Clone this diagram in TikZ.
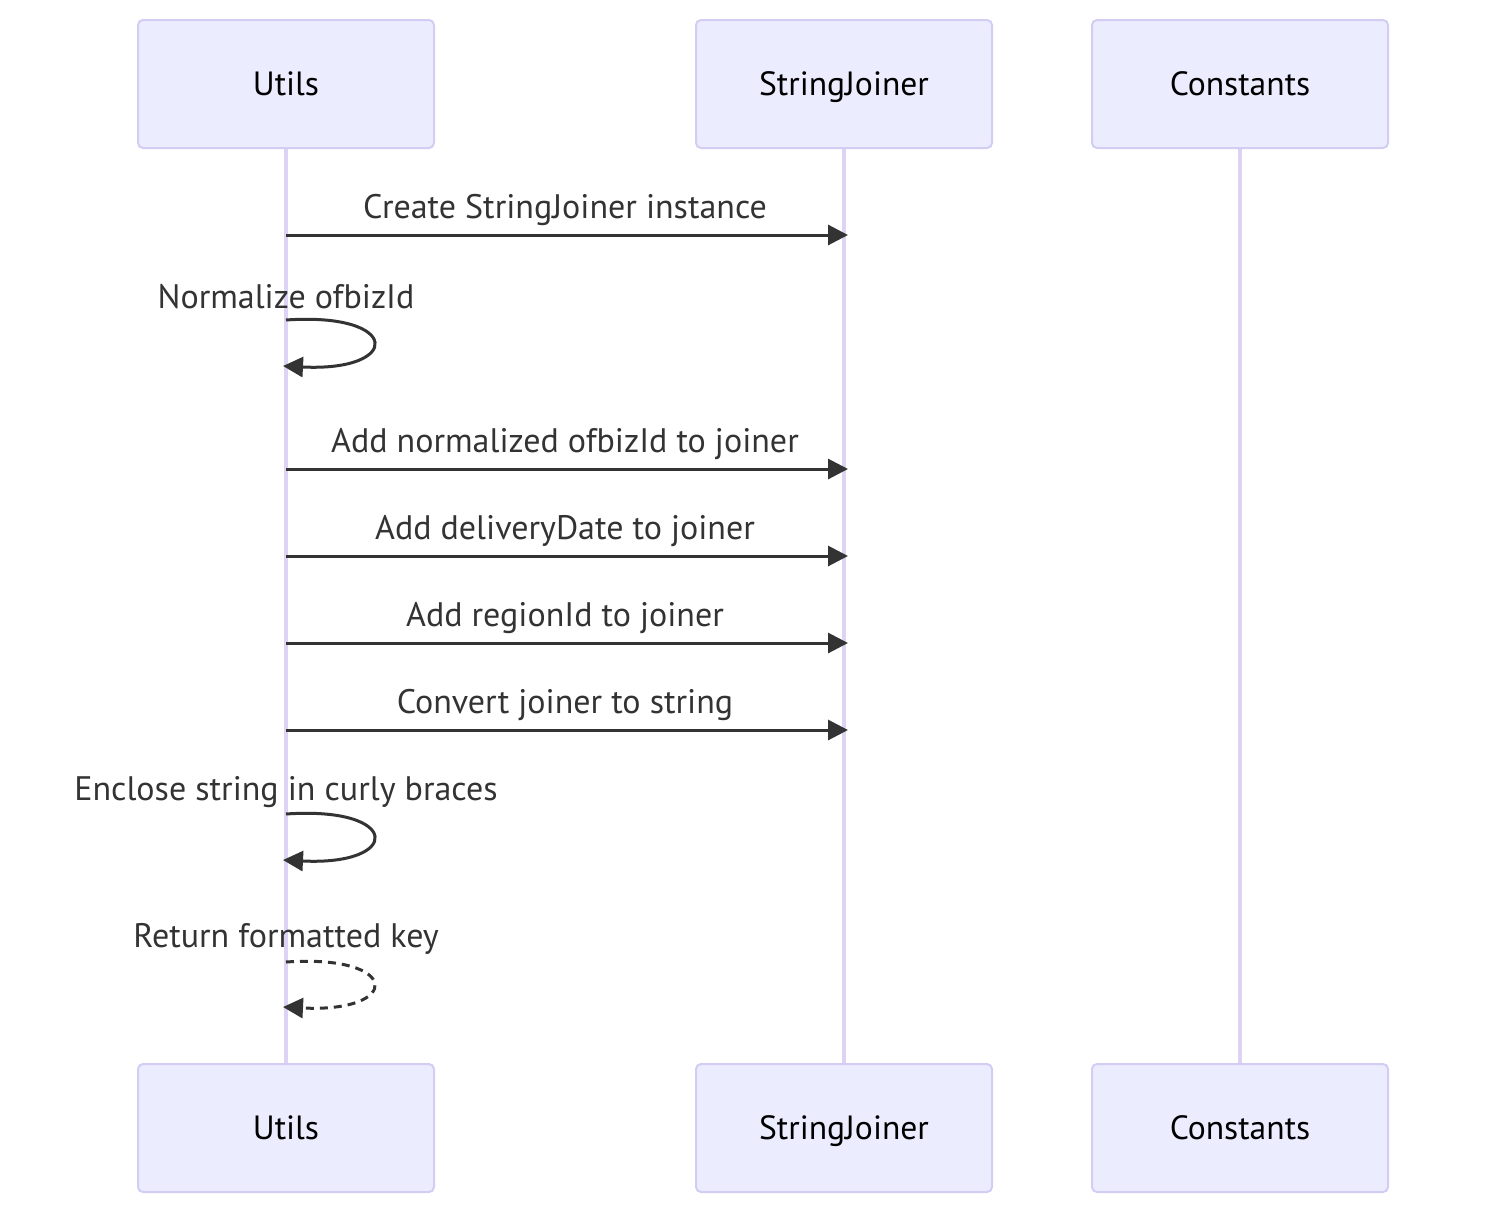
\documentclass[tikz,border=0pt]{standalone}
\usepackage{fontspec}
\setmainfont{PT Sans}
\usetikzlibrary{arrows.meta}
\definecolor{actfill}{HTML}{ECECFF}
\definecolor{actdraw}{HTML}{D3CCF3}
\definecolor{lifeline}{HTML}{DCD3F5}
\definecolor{msg}{HTML}{333333}
\begin{document}
\begin{tikzpicture}[x=0.5pt,y=-0.5pt,
  actor/.style={draw=actdraw,fill=actfill,line width=1pt,rounded corners=2.5pt,
    minimum width=148pt,minimum height=64pt,inner sep=0pt,text height=11.5pt,text depth=0pt,
    font=\fontsize{16.8pt}{18pt}\selectfont,text=black},
  life/.style={draw=lifeline,line width=1.6pt},
  msgline/.style={draw=msg,line width=1.5pt,-{Triangle[length=10pt,width=10pt]}},
  msglabel/.style={font=\fontsize{17pt}{19pt}\selectfont,text=msg,inner sep=0pt}]
\useasboundingbox (0,0) rectangle (1504,1226);
% lifelines
\draw[life] (286,148) -- (286,1064);
\draw[life] (844,148) -- (844,1064);
\draw[life] (1240,148) -- (1240,1064);
% actors
\node[actor] (u1) at (286,84) {Utils};
\node[actor] (s1) at (844,84) {StringJoiner};
\node[actor] (c1) at (1240,84) {Constants};
\node[actor] (u2) at (286,1128) {Utils};
\node[actor] (s2) at (844,1128) {StringJoiner};
\node[actor] (c2) at (1240,1128) {Constants};
% coordinates
\foreach \y/\n in {235/a,469/b,556/c,643/d,730/e}{
  \coordinate (u\n) at (286,\y);
  \coordinate (s\n) at (848,\y);
}
\coordinate (l1s) at (286,320); \coordinate (l1e) at (283,366);
\coordinate (l2s) at (286,814); \coordinate (l2e) at (283,860);
\coordinate (l3s) at (286,962); \coordinate (l3e) at (283,1007);
% messages
\draw[msgline] (ua) -- (sa);
\node[msglabel] (ta) at (565,210) {Create StringJoiner instance};
\draw[msgline] (l1s) .. controls (402,312) and (402,372) .. (l1e);
\node[msglabel] (tl1) at (286,297) {Normalize ofbizId};
\draw[msgline] (ub) -- (sb);
\node[msglabel] (tb) at (565,444) {Add normalized ofbizId to joiner};
\draw[msgline] (uc) -- (sc);
\node[msglabel] (tc) at (565,531) {Add deliveryDate to joiner};
\draw[msgline] (ud) -- (sd);
\node[msglabel] (td) at (565,618) {Add regionId to joiner};
\draw[msgline] (ue) -- (se);
\node[msglabel] (te) at (565,705) {Convert joiner to string};
\draw[msgline] (l2s) .. controls (402,806) and (402,866) .. (l2e);
\node[msglabel] (tl2) at (286,792) {Enclose string in curly braces};
\draw[msgline,dash pattern=on 4pt off 3pt] (l3s) .. controls (402,954) and (402,1013) .. (l3e);
\node[msglabel] (tl3) at (286,939) {Return formatted key};
\end{tikzpicture}
\end{document}
